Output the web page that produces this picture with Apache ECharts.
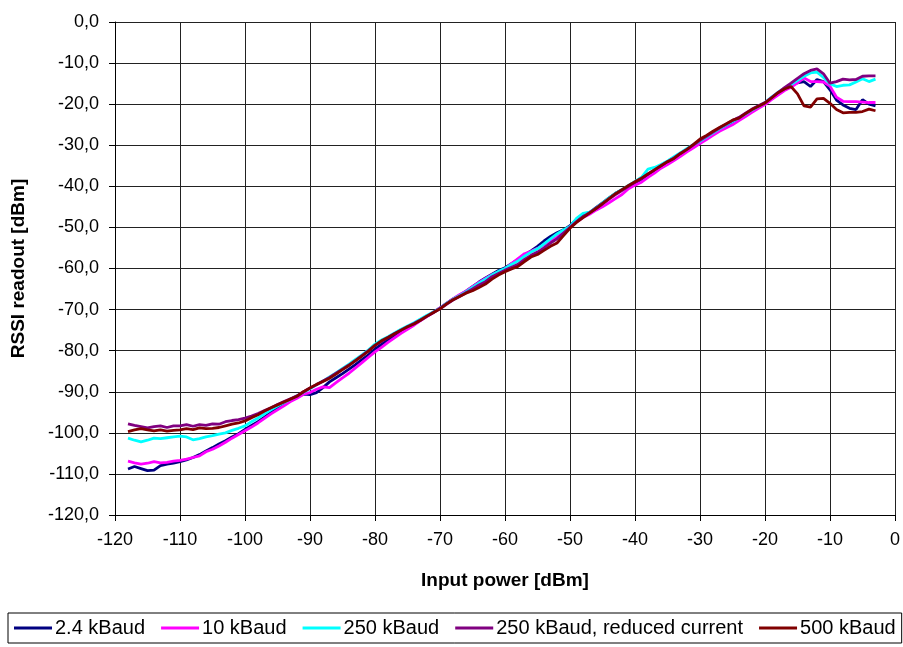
<!DOCTYPE html>
<html>
<head>
<meta charset="utf-8">
<script src="https://cdn.jsdelivr.net/npm/echarts@6/dist/echarts.min.js"></script>
<style>html,body{margin:0;padding:0;background:#fff}#c{width:903px;height:647px}</style>
</head>
<body>
<div id="c"></div>
<script>
const inputPower = [-118,-117,-116,-115,-114,-113,-112,-111,-110,-109,-108,-107,-106,-105,-104,-103,-102,-101,-100,-99,-98,-97,-96,-95,-94,-93,-92,-91,-90,-89,-88,-87,-86,-85,-84,-83,-82,-81,-80,-79,-78,-77,-76,-75,-74,-73,-72,-71,-70,-69,-68,-67,-66,-65,-64,-63,-62,-61,-60,-59,-58,-57,-56,-55,-54,-53,-52,-51,-50,-49,-48,-47,-46,-45,-44,-43,-42,-41,-40,-39,-38,-37,-36,-35,-34,-33,-32,-31,-30,-29,-28,-27,-26,-25,-24,-23,-22,-21,-20,-19,-18,-17,-16,-15,-14,-13,-12,-11,-10,-9,-8,-7,-6,-5,-4,-3];

const baud2k4 = [-108.8,-108.2,-108.7,-109.2,-109.1,-108.0,-107.6,-107.4,-107.0,-106.6,-106.0,-105.3,-104.4,-103.6,-102.7,-101.9,-101.0,-100.2,-99.2,-98.2,-97.3,-96.2,-95.0,-94.0,-93.0,-92.0,-91.2,-90.6,-90.7,-90.2,-89.0,-87.6,-86.6,-85.6,-84.5,-83.4,-82.2,-81.0,-79.6,-78.5,-77.4,-76.3,-75.3,-74.4,-73.6,-72.6,-71.6,-70.6,-69.6,-68.5,-67.4,-66.5,-65.5,-64.4,-63.3,-62.3,-61.4,-60.5,-59.8,-58.8,-57.8,-56.7,-55.7,-54.6,-53.3,-52.2,-51.3,-50.6,-49.6,-48.0,-46.8,-46.4,-45.2,-44.0,-42.8,-41.7,-40.8,-39.9,-39.2,-38.3,-37.2,-36.3,-35.2,-34.2,-33.3,-32.2,-31.2,-30.2,-29.2,-28.2,-27.2,-26.2,-25.3,-24.5,-23.6,-22.6,-21.6,-20.7,-19.8,-18.7,-17.5,-16.5,-15.5,-14.8,-14.5,-15.7,-14.0,-14.5,-16.5,-19.0,-20.2,-21.0,-21.3,-18.9,-20.0,-20.4];

const baud10k = [-106.9,-107.3,-107.6,-107.4,-107.0,-107.3,-107.2,-106.9,-106.7,-106.4,-106.0,-105.6,-104.6,-104.0,-103.2,-102.3,-101.3,-100.4,-99.5,-98.6,-97.6,-96.5,-95.4,-94.4,-93.4,-92.4,-91.6,-90.6,-90.2,-89.4,-88.8,-89.0,-87.8,-86.6,-85.5,-84.2,-82.9,-81.6,-80.3,-79.2,-78.0,-76.9,-75.8,-74.8,-73.8,-72.7,-71.7,-70.7,-69.6,-68.5,-67.4,-66.4,-65.5,-64.4,-63.4,-62.4,-61.5,-60.8,-60.1,-58.8,-57.6,-56.4,-55.8,-55.1,-54.2,-53.2,-52.4,-51.0,-49.8,-48.7,-47.6,-46.8,-45.8,-45.0,-44.0,-43.0,-42.0,-40.6,-39.7,-39.0,-37.8,-36.8,-35.6,-34.7,-33.7,-32.7,-31.6,-30.6,-29.6,-28.6,-27.6,-26.6,-25.8,-25.0,-24.0,-23.0,-22.0,-21.0,-20.1,-18.9,-17.8,-16.7,-15.9,-14.8,-13.6,-14.5,-14.5,-14.6,-15.6,-18.3,-19.3,-19.4,-19.4,-19.5,-19.6,-19.6];

const baud250k = [-101.3,-101.8,-102.2,-101.8,-101.3,-101.4,-101.2,-101.0,-100.8,-101.0,-101.7,-101.4,-101.0,-100.7,-100.3,-100.0,-99.4,-98.9,-98.3,-97.3,-96.4,-95.4,-94.4,-93.5,-92.6,-91.8,-91.0,-90.1,-89.3,-88.3,-87.4,-86.4,-85.4,-84.3,-83.3,-82.1,-81.0,-79.8,-78.4,-77.4,-76.6,-75.7,-74.8,-74.0,-73.2,-72.3,-71.4,-70.6,-69.7,-68.5,-67.5,-66.6,-65.7,-64.6,-63.6,-62.6,-61.6,-60.7,-60.0,-59.0,-58.2,-57.0,-56.0,-55.2,-54.0,-52.8,-51.6,-50.6,-49.8,-47.8,-46.6,-46.3,-45.3,-44.1,-42.8,-41.7,-40.8,-39.8,-38.8,-37.8,-35.8,-35.4,-34.7,-33.8,-32.8,-31.8,-30.8,-29.8,-29.0,-28.0,-27.0,-26.0,-25.1,-24.2,-23.3,-22.4,-21.4,-20.5,-19.6,-18.3,-17.1,-16.1,-15.2,-14.2,-13.2,-12.4,-12.2,-13.5,-15.0,-15.7,-15.4,-15.3,-14.6,-13.8,-14.5,-13.9];

const baud250kReduced = [-97.8,-98.2,-98.5,-98.8,-98.5,-98.3,-98.7,-98.3,-98.3,-98.0,-98.4,-98.0,-98.2,-97.8,-97.9,-97.3,-97.0,-96.8,-96.4,-95.9,-95.3,-94.6,-93.9,-93.1,-92.4,-91.7,-91.0,-90.0,-89.1,-88.3,-87.4,-86.5,-85.5,-84.5,-83.5,-82.4,-81.2,-80.0,-78.7,-77.7,-76.8,-75.9,-75.0,-74.2,-73.4,-72.5,-71.6,-70.7,-69.8,-68.7,-67.7,-66.8,-65.9,-65.0,-64.0,-63.2,-62.0,-61.2,-60.4,-59.7,-59.0,-57.8,-56.8,-56.0,-55.0,-53.8,-52.8,-51.4,-50.0,-48.6,-47.4,-46.4,-45.4,-44.3,-43.1,-42.0,-41.0,-40.0,-39.0,-38.1,-37.0,-36.0,-35.0,-34.0,-33.1,-32.0,-31.0,-29.9,-28.8,-27.8,-26.8,-25.8,-24.9,-24.0,-23.2,-22.2,-21.2,-20.4,-19.6,-18.4,-17.2,-16.0,-14.9,-13.7,-12.6,-11.8,-11.4,-12.6,-14.9,-14.5,-13.9,-14.1,-14.0,-13.2,-13.1,-13.1];

const baud500k = [-99.7,-99.3,-99.0,-99.3,-99.5,-99.3,-99.6,-99.4,-99.3,-99.0,-99.2,-98.8,-99.0,-98.9,-98.7,-98.3,-97.9,-97.6,-97.1,-96.3,-95.6,-94.7,-93.9,-93.2,-92.5,-91.8,-91.1,-90.0,-89.1,-88.2,-87.5,-86.7,-85.7,-84.6,-83.6,-82.4,-81.3,-80.1,-78.7,-77.6,-76.8,-75.9,-75.0,-74.2,-73.5,-72.6,-71.6,-70.7,-69.8,-68.6,-67.6,-66.8,-66.0,-65.4,-64.6,-63.8,-62.6,-61.6,-60.8,-60.1,-59.5,-58.3,-57.2,-56.6,-55.6,-54.6,-53.8,-52.0,-50.2,-48.8,-47.6,-46.5,-45.4,-44.2,-43.0,-41.8,-40.8,-39.8,-38.9,-38.0,-37.0,-36.0,-35.0,-34.0,-33.2,-32.0,-31.0,-29.8,-28.5,-27.6,-26.6,-25.7,-24.8,-23.9,-23.4,-22.3,-21.3,-20.5,-19.7,-18.5,-17.2,-16.3,-15.7,-17.5,-20.4,-20.7,-18.7,-18.6,-19.8,-21.3,-22.1,-22.0,-22.0,-21.8,-21.2,-21.6];

const seriesNames = ['2.4 kBaud','10 kBaud','250 kBaud','250 kBaud, reduced current','500 kBaud'];
const seriesColors = ['#000080','#FF00FF','#00FFFF','#800080','#800000'];
const seriesValues = [baud2k4, baud10k, baud250k, baud250kReduced, baud500k];

const FONT = 'Liberation Sans, Arial, sans-serif';
const chart = echarts.init(document.getElementById('c'));
chart.setOption({
  animation: false,
  backgroundColor: '#fff',
  grid: {left: 115, right: 6, top: 22, bottom: 132, containLabel: false},
  xAxis: {
    type: 'value', min: -120, max: 0, interval: 10,
    name: 'Input power [dBm]', nameLocation: 'middle', nameGap: 56,
    nameTextStyle: {fontFamily: FONT, fontSize: 19, fontWeight: 'bold', color: '#000'},
    axisLine: {show: true, onZero: false, lineStyle: {color: '#000', width: 1}},
    axisTick: {show: true, length: 6, lineStyle: {color: '#000'}},
    axisLabel: {fontFamily: FONT, fontSize: 18, color: '#000', margin: 16},
    splitLine: {show: true, lineStyle: {color: '#222', width: 1}}
  },
  yAxis: {
    type: 'value', min: -120, max: 0, interval: 10,
    name: 'RSSI readout [dBm]', nameLocation: 'middle', nameGap: 87, nameRotate: 90,
    nameTextStyle: {fontFamily: FONT, fontSize: 19, fontWeight: 'bold', color: '#000'},
    axisLine: {show: true, onZero: false, lineStyle: {color: '#000', width: 1}},
    axisTick: {show: true, length: 6, lineStyle: {color: '#000'}},
    axisLabel: {fontFamily: FONT, fontSize: 18, color: '#000', margin: 16,
      formatter: v => v.toFixed(1).replace('.', ',')},
    splitLine: {show: true, lineStyle: {color: '#222', width: 1}}
  },
  legend: {
    left: 8, top: 613, orient: 'horizontal',
    icon: 'rect', itemWidth: 38, itemHeight: 3, itemGap: 16,
    padding: [5, 6], borderColor: '#000', borderWidth: 1,
    textStyle: {fontFamily: FONT, fontSize: 20, color: '#000', padding: [0,0,0,-2]},
    data: seriesNames
  },
  series: seriesNames.map((n, i) => ({
    name: n, type: 'line', showSymbol: false, symbol: 'none',
    lineStyle: {color: seriesColors[i], width: 2.8},
    itemStyle: {color: seriesColors[i]},
    data: inputPower.map((x, j) => [x, seriesValues[i][j]])
  }))
});
</script>
</body>
</html>
